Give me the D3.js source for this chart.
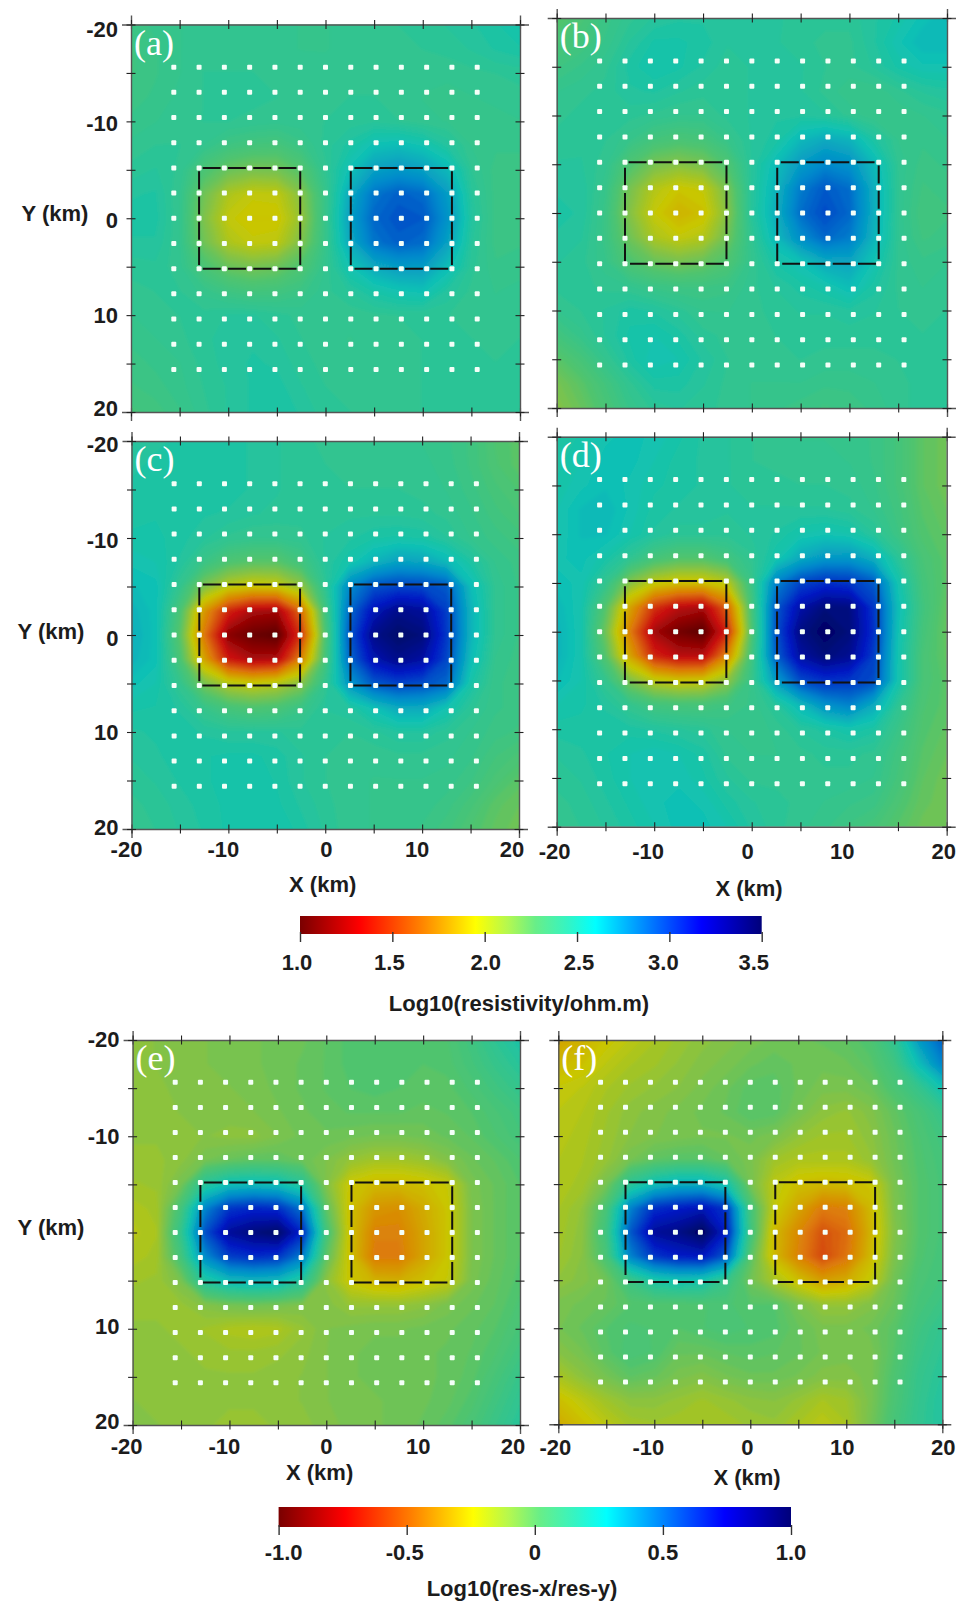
<!DOCTYPE html>
<html>
<head>
<meta charset="utf-8">
<script src="https://cdn.jsdelivr.net/npm/d3@7"></script>
<style>
  body { margin: 0; background: #fff; }
  svg { display: block; }
  text { font-family: "Liberation Sans", Arial, sans-serif; font-weight: bold; fill: #1c1c1c; }
  .tag { font-family: "Liberation Serif", serif; font-weight: normal; fill: #fff; }
</style>
</head>
<body>
<svg id="chart" width="974" height="1616"></svg>
<script>
// grid nodes of the fields, km, every 2.5 km (rows run from y=-20 down to y=20)
const gridKm = [-20,-17.5,-15,-12.5,-10,-7.5,-5,-2.5,0,2.5,5,7.5,10,12.5,15,17.5,20];
const tickKm = [-20,-15,-10,-5,0,5,10,15,20];
const labelKm = [-20,-10,0,10,20];
const stationKm = [-15.6,-13,-10.4,-7.8,-5.2,-2.6,0,2.6,5.2,7.8,10.4,13,15.6];
const boxXKm = [[-13,-2.6],[2.6,13]];
const boxYKm = [-5.2,5.2];

// panel (a) Log10 resistivity
const fieldA = [
2.40,2.42,2.44,2.46,2.46,2.46,2.45,2.44,2.44,2.45,2.46,2.47,2.48,2.50,2.52,2.55,2.58,
2.38,2.41,2.44,2.46,2.46,2.46,2.45,2.44,2.44,2.45,2.46,2.46,2.47,2.48,2.50,2.53,2.55,
2.38,2.41,2.44,2.47,2.47,2.47,2.46,2.46,2.45,2.46,2.46,2.46,2.45,2.45,2.46,2.47,2.48,
2.40,2.42,2.45,2.47,2.48,2.48,2.47,2.46,2.46,2.47,2.47,2.46,2.44,2.43,2.44,2.45,2.46,
2.42,2.44,2.46,2.47,2.47,2.46,2.45,2.46,2.47,2.48,2.49,2.47,2.45,2.44,2.43,2.43,2.44,
2.45,2.47,2.47,2.44,2.38,2.35,2.34,2.40,2.48,2.54,2.62,2.64,2.60,2.52,2.44,2.42,2.42,
2.48,2.50,2.46,2.32,2.22,2.18,2.19,2.28,2.46,2.62,2.76,2.80,2.76,2.66,2.47,2.40,2.40,
2.52,2.53,2.44,2.20,2.04,1.98,1.99,2.14,2.42,2.72,2.92,2.98,2.95,2.78,2.50,2.40,2.40,
2.54,2.54,2.44,2.16,1.98,1.94,1.94,2.10,2.42,2.76,2.96,3.02,3.00,2.82,2.52,2.40,2.40,
2.52,2.52,2.44,2.20,2.04,1.98,2.00,2.16,2.42,2.72,2.92,2.98,2.95,2.76,2.50,2.40,2.41,
2.48,2.49,2.45,2.32,2.22,2.18,2.21,2.30,2.44,2.60,2.72,2.78,2.78,2.64,2.48,2.42,2.43,
2.46,2.47,2.47,2.43,2.38,2.35,2.36,2.40,2.46,2.50,2.56,2.60,2.62,2.52,2.46,2.44,2.45,
2.44,2.46,2.47,2.48,2.50,2.50,2.48,2.46,2.45,2.45,2.46,2.47,2.47,2.47,2.46,2.45,2.46,
2.42,2.44,2.46,2.49,2.51,2.52,2.50,2.47,2.45,2.44,2.45,2.46,2.47,2.47,2.47,2.46,2.47,
2.40,2.42,2.44,2.48,2.51,2.53,2.52,2.48,2.46,2.45,2.45,2.46,2.47,2.47,2.47,2.47,2.48,
2.38,2.40,2.43,2.47,2.50,2.53,2.54,2.50,2.47,2.46,2.46,2.46,2.47,2.47,2.47,2.47,2.49,
2.35,2.37,2.41,2.46,2.50,2.53,2.55,2.52,2.48,2.47,2.46,2.46,2.47,2.47,2.47,2.47,2.49];

// panel (b) Log10 resistivity
const fieldB = [
2.28,2.32,2.40,2.46,2.50,2.52,2.52,2.50,2.50,2.50,2.49,2.48,2.48,2.52,2.56,2.62,2.66,
2.32,2.36,2.42,2.50,2.56,2.56,2.54,2.50,2.50,2.50,2.48,2.46,2.46,2.52,2.60,2.66,2.66,
2.38,2.42,2.46,2.54,2.58,2.56,2.52,2.48,2.50,2.52,2.50,2.47,2.46,2.50,2.56,2.60,2.60,
2.44,2.46,2.48,2.52,2.53,2.50,2.48,2.48,2.50,2.52,2.50,2.46,2.42,2.42,2.46,2.50,2.52,
2.46,2.48,2.48,2.48,2.46,2.44,2.44,2.48,2.50,2.52,2.52,2.50,2.46,2.42,2.42,2.44,2.46,
2.48,2.49,2.47,2.42,2.35,2.32,2.34,2.42,2.50,2.54,2.66,2.72,2.68,2.54,2.44,2.42,2.44,
2.50,2.50,2.45,2.30,2.18,2.14,2.18,2.30,2.50,2.64,2.78,2.86,2.82,2.66,2.46,2.40,2.42,
2.52,2.52,2.42,2.18,2.02,1.95,1.98,2.18,2.50,2.68,2.90,3.00,2.94,2.70,2.46,2.38,2.40,
2.54,2.52,2.40,2.14,1.97,1.88,1.93,2.14,2.50,2.70,2.94,3.04,2.96,2.70,2.46,2.36,2.38,
2.52,2.50,2.40,2.20,2.04,1.98,2.02,2.20,2.46,2.66,2.84,2.96,2.90,2.68,2.46,2.38,2.40,
2.50,2.48,2.42,2.30,2.22,2.18,2.22,2.30,2.44,2.56,2.62,2.72,2.74,2.60,2.46,2.42,2.44,
2.48,2.48,2.46,2.44,2.40,2.38,2.38,2.40,2.46,2.50,2.54,2.58,2.64,2.54,2.46,2.44,2.46,
2.44,2.47,2.50,2.54,2.52,2.48,2.44,2.44,2.46,2.48,2.50,2.50,2.52,2.50,2.47,2.46,2.47,
2.36,2.43,2.50,2.56,2.58,2.54,2.48,2.46,2.46,2.47,2.48,2.48,2.48,2.48,2.48,2.47,2.47,
2.26,2.34,2.44,2.54,2.60,2.58,2.52,2.47,2.46,2.46,2.47,2.46,2.46,2.46,2.47,2.47,2.48,
2.18,2.26,2.36,2.46,2.54,2.54,2.50,2.46,2.44,2.44,2.44,2.42,2.42,2.44,2.46,2.48,2.48,
2.14,2.22,2.32,2.42,2.48,2.50,2.48,2.46,2.44,2.42,2.40,2.38,2.40,2.42,2.46,2.48,2.50];

// panel (c) Log10 resistivity
const fieldC = [
2.50,2.52,2.53,2.54,2.54,2.52,2.50,2.48,2.46,2.45,2.45,2.45,2.44,2.42,2.38,2.30,2.26,
2.52,2.53,2.53,2.54,2.54,2.52,2.50,2.48,2.47,2.46,2.46,2.46,2.45,2.43,2.38,2.31,2.26,
2.53,2.54,2.54,2.54,2.54,2.52,2.50,2.48,2.47,2.47,2.47,2.47,2.46,2.44,2.40,2.34,2.30,
2.54,2.55,2.54,2.53,2.52,2.50,2.49,2.48,2.48,2.49,2.49,2.49,2.48,2.46,2.42,2.37,2.33,
2.56,2.56,2.54,2.50,2.46,2.44,2.44,2.46,2.50,2.52,2.55,2.56,2.55,2.50,2.44,2.40,2.37,
2.60,2.58,2.52,2.40,2.30,2.26,2.26,2.36,2.50,2.58,2.68,2.76,2.74,2.66,2.54,2.44,2.40,
2.64,2.62,2.44,2.16,2.00,1.94,1.96,2.10,2.46,2.85,3.02,3.06,3.05,3.00,2.64,2.46,2.41,
2.68,2.62,2.32,1.78,1.42,1.26,1.24,1.62,2.36,2.95,3.22,3.34,3.30,3.08,2.68,2.46,2.41,
2.70,2.62,2.26,1.66,1.18,1.10,1.06,1.45,2.30,3.00,3.34,3.42,3.38,3.10,2.68,2.46,2.41,
2.68,2.62,2.32,1.82,1.38,1.26,1.28,1.70,2.34,2.95,3.24,3.34,3.28,3.06,2.64,2.44,2.40,
2.62,2.58,2.44,2.18,2.02,1.97,2.02,2.14,2.44,2.80,3.00,3.06,3.03,2.96,2.56,2.42,2.40,
2.56,2.55,2.52,2.42,2.34,2.30,2.32,2.40,2.50,2.52,2.62,2.72,2.72,2.60,2.48,2.42,2.40,
2.52,2.53,2.54,2.52,2.50,2.50,2.50,2.48,2.47,2.47,2.49,2.52,2.52,2.48,2.44,2.40,2.38,
2.50,2.52,2.54,2.55,2.56,2.56,2.54,2.50,2.47,2.45,2.45,2.46,2.46,2.45,2.42,2.36,2.32,
2.48,2.50,2.53,2.55,2.56,2.57,2.55,2.50,2.47,2.45,2.44,2.44,2.44,2.43,2.39,2.32,2.26,
2.46,2.48,2.51,2.54,2.56,2.58,2.56,2.52,2.48,2.45,2.44,2.44,2.43,2.40,2.34,2.26,2.22,
2.45,2.47,2.50,2.53,2.56,2.58,2.58,2.54,2.49,2.45,2.44,2.43,2.41,2.37,2.30,2.24,2.20];

// panel (d) Log10 resistivity
const fieldD = [
2.52,2.56,2.60,2.62,2.60,2.56,2.52,2.50,2.47,2.45,2.44,2.44,2.43,2.41,2.35,2.25,2.20,
2.54,2.58,2.62,2.62,2.58,2.54,2.52,2.50,2.47,2.46,2.45,2.45,2.44,2.41,2.35,2.25,2.20,
2.56,2.60,2.63,2.60,2.56,2.54,2.52,2.50,2.48,2.48,2.47,2.47,2.46,2.42,2.35,2.25,2.20,
2.58,2.64,2.66,2.60,2.54,2.52,2.52,2.50,2.50,2.50,2.50,2.50,2.48,2.44,2.37,2.27,2.22,
2.58,2.64,2.64,2.58,2.52,2.48,2.48,2.48,2.50,2.53,2.58,2.60,2.58,2.50,2.39,2.29,2.24,
2.60,2.62,2.56,2.46,2.34,2.28,2.28,2.36,2.46,2.58,2.72,2.80,2.80,2.70,2.49,2.33,2.26,
2.62,2.60,2.44,2.14,1.98,1.92,1.92,2.00,2.40,2.88,3.06,3.12,3.10,3.00,2.59,2.35,2.26,
2.66,2.58,2.28,1.82,1.46,1.30,1.26,1.60,2.34,3.00,3.26,3.38,3.36,3.10,2.63,2.37,2.24,
2.68,2.58,2.20,1.68,1.24,1.12,1.06,1.42,2.30,3.02,3.36,3.44,3.38,3.12,2.61,2.35,2.23,
2.68,2.58,2.28,1.82,1.42,1.30,1.30,1.72,2.36,2.98,3.28,3.38,3.32,3.08,2.59,2.33,2.24,
2.64,2.58,2.44,2.16,2.00,1.94,1.96,2.12,2.42,2.78,3.04,3.12,3.10,3.04,2.59,2.33,2.26,
2.58,2.56,2.52,2.44,2.36,2.34,2.34,2.38,2.42,2.50,2.66,2.82,2.88,2.72,2.47,2.31,2.26,
2.54,2.54,2.54,2.54,2.52,2.50,2.48,2.44,2.42,2.45,2.50,2.54,2.58,2.54,2.41,2.29,2.24,
2.50,2.52,2.55,2.58,2.60,2.58,2.54,2.46,2.44,2.44,2.46,2.48,2.48,2.46,2.37,2.27,2.22,
2.48,2.50,2.54,2.58,2.60,2.60,2.56,2.50,2.46,2.46,2.46,2.46,2.46,2.44,2.35,2.25,2.20,
2.46,2.48,2.52,2.56,2.60,2.62,2.60,2.54,2.50,2.48,2.46,2.44,2.42,2.40,2.31,2.23,2.20,
2.45,2.47,2.50,2.54,2.58,2.62,2.62,2.58,2.52,2.48,2.45,2.42,2.38,2.34,2.27,2.21,2.20];

// panel (e) Log10(res-x/res-y)
const fieldE = [
-0.10,-0.09,-0.08,-0.07,-0.06,-0.05,-0.04,-0.03,0.00,0.03,0.04,0.03,0.02,0.04,0.10,0.18,0.24,
-0.10,-0.09,-0.08,-0.07,-0.06,-0.05,-0.04,-0.02,0.00,0.03,0.04,0.03,0.02,0.03,0.08,0.14,0.20,
-0.10,-0.10,-0.08,-0.08,-0.07,-0.06,-0.04,-0.02,0.00,0.02,0.03,0.02,0.01,0.01,0.05,0.10,0.15,
-0.10,-0.10,-0.09,-0.08,-0.08,-0.07,-0.05,-0.03,-0.01,0.00,0.00,0.00,-0.01,0.00,0.02,0.06,0.10,
-0.11,-0.11,-0.10,-0.09,-0.10,-0.10,-0.07,-0.04,-0.03,-0.04,-0.05,-0.05,-0.04,-0.02,0.00,0.04,0.08,
-0.12,-0.12,-0.10,-0.05,-0.02,0.00,0.00,-0.03,-0.07,-0.12,-0.15,-0.15,-0.13,-0.08,-0.03,0.00,0.04,
-0.14,-0.13,-0.05,0.20,0.30,0.32,0.30,0.20,-0.08,-0.24,-0.28,-0.28,-0.26,-0.22,-0.06,-0.02,0.02,
-0.17,-0.15,0.08,0.50,0.68,0.72,0.70,0.54,0.00,-0.26,-0.38,-0.40,-0.32,-0.24,-0.07,-0.02,0.02,
-0.19,-0.16,0.15,0.62,0.84,0.90,0.94,0.72,0.08,-0.26,-0.44,-0.44,-0.34,-0.24,-0.07,-0.02,0.02,
-0.17,-0.15,0.08,0.48,0.66,0.70,0.68,0.52,0.00,-0.26,-0.46,-0.46,-0.34,-0.24,-0.07,-0.02,0.02,
-0.14,-0.13,-0.06,0.22,0.32,0.34,0.32,0.20,-0.10,-0.24,-0.30,-0.31,-0.26,-0.22,-0.06,-0.01,0.03,
-0.12,-0.12,-0.12,-0.08,-0.05,-0.04,-0.05,-0.07,-0.08,-0.12,-0.12,-0.12,-0.10,-0.06,-0.03,0.00,0.05,
-0.11,-0.11,-0.12,-0.14,-0.17,-0.18,-0.17,-0.12,-0.07,-0.06,-0.05,-0.05,-0.04,-0.03,-0.01,0.02,0.07,
-0.10,-0.10,-0.11,-0.12,-0.13,-0.13,-0.12,-0.10,-0.07,-0.05,-0.04,-0.04,-0.03,-0.02,0.00,0.04,0.10,
-0.10,-0.10,-0.10,-0.11,-0.11,-0.11,-0.10,-0.09,-0.07,-0.05,-0.04,-0.04,-0.03,-0.02,0.01,0.07,0.14,
-0.09,-0.10,-0.10,-0.11,-0.11,-0.11,-0.10,-0.09,-0.07,-0.06,-0.05,-0.04,-0.03,-0.01,0.03,0.10,0.17,
-0.09,-0.09,-0.10,-0.11,-0.12,-0.12,-0.11,-0.10,-0.08,-0.06,-0.05,-0.04,-0.02,0.01,0.06,0.13,0.20];

// panel (f) Log10(res-x/res-y)
const fieldF = [
-0.34,-0.30,-0.24,-0.20,-0.16,-0.13,-0.10,-0.08,-0.06,-0.04,-0.03,-0.02,0.00,0.04,0.16,0.42,0.58,
-0.28,-0.25,-0.20,-0.16,-0.14,-0.11,-0.08,-0.06,-0.03,-0.01,-0.03,-0.04,-0.03,0.01,0.10,0.30,0.50,
-0.22,-0.20,-0.16,-0.13,-0.11,-0.09,-0.06,-0.03,0.01,0.01,-0.03,-0.06,-0.06,-0.03,0.05,0.14,0.28,
-0.20,-0.18,-0.14,-0.10,-0.08,-0.06,-0.04,-0.02,0.02,0.01,-0.05,-0.10,-0.12,-0.08,-0.01,0.06,0.14,
-0.19,-0.17,-0.13,-0.09,-0.07,-0.06,-0.05,-0.05,-0.04,-0.06,-0.11,-0.14,-0.14,-0.10,-0.03,0.04,0.10,
-0.18,-0.16,-0.12,-0.05,0.00,0.02,0.02,-0.02,-0.06,-0.14,-0.17,-0.17,-0.17,-0.12,-0.04,0.03,0.08,
-0.17,-0.15,-0.05,0.18,0.30,0.36,0.36,0.26,-0.05,-0.20,-0.26,-0.28,-0.27,-0.24,-0.06,0.02,0.07,
-0.16,-0.11,0.06,0.50,0.70,0.74,0.78,0.68,0.08,-0.22,-0.34,-0.46,-0.44,-0.28,-0.07,0.02,0.07,
-0.15,-0.10,0.10,0.60,0.84,0.88,0.96,0.74,0.10,-0.28,-0.42,-0.56,-0.50,-0.30,-0.08,0.02,0.07,
-0.14,-0.09,0.06,0.50,0.68,0.74,0.76,0.60,0.02,-0.28,-0.44,-0.58,-0.48,-0.28,-0.07,0.03,0.08,
-0.11,-0.08,-0.04,0.12,0.24,0.28,0.26,0.14,-0.04,-0.16,-0.26,-0.36,-0.32,-0.22,-0.04,0.05,0.09,
-0.06,-0.04,-0.02,0.02,0.03,0.03,0.04,0.05,0.02,0.02,-0.06,-0.12,-0.12,-0.08,-0.02,0.07,0.12,
-0.05,-0.02,0.02,0.05,0.04,0.02,0.04,0.06,0.04,0.03,-0.02,-0.06,-0.06,-0.04,0.01,0.10,0.16,
-0.09,-0.05,0.01,0.06,0.04,-0.02,-0.02,0.00,0.01,0.00,-0.02,-0.05,-0.06,-0.06,0.02,0.12,0.18,
-0.16,-0.10,-0.05,0.00,-0.02,-0.06,-0.08,-0.05,-0.03,-0.03,-0.05,-0.08,-0.08,-0.06,0.04,0.14,0.20,
-0.26,-0.20,-0.14,-0.10,-0.10,-0.12,-0.14,-0.12,-0.10,-0.09,-0.12,-0.16,-0.14,-0.06,0.05,0.15,0.22,
-0.32,-0.26,-0.20,-0.15,-0.14,-0.15,-0.16,-0.15,-0.13,-0.12,-0.16,-0.20,-0.16,-0.05,0.07,0.16,0.22];

const resDomain = [1, 3.5];
const resTicks = [1, 1.5, 2, 2.5, 3, 3.5];
const resTickLabels = ["1.0", "1.5", "2.0", "2.5", "3.0", "3.5"];
const ratioDomain = [-1, 1];
const ratioTicks = [-1, -0.5, 0, 0.5, 1];
const ratioTickLabels = ["-1.0", "-0.5", "0", "0.5", "1.0"];

// colour stops, as a fraction of the colour bar
const stopAt = [0, 0.13, 0.26, 0.38, 0.45, 0.51, 0.58, 0.64, 0.74, 0.87, 1];
const barStops = ["#7a0000","#ff0000","#ff8000","#ffff00","#b4f850","#68ee88","#34f4c4","#00ffff","#0090ff","#0000ff","#00007a"];
// the maps are printed darker than the bars
const mapStops = ["#480000","#c80a0a","#de7808","#c8c800","#86c244","#50c46e","#2ec492","#10c2b4","#0088cc","#0018c4","#000048"];

const svg = d3.select("#chart");
const defs = svg.append("defs");
defs.append("filter").attr("id", "soft")
  .attr("x", "-5%").attr("y", "-5%").attr("width", "110%").attr("height", "110%")
  .append("feGaussianBlur").attr("stdDeviation", 1.6);

function stopScale(domain, colors) {
  const [lo, hi] = domain;
  return d3.scaleLinear().domain(stopAt.map(t => lo + t * (hi - lo))).range(colors).clamp(true);
}

function drawPanel(p) {
  const x = d3.scaleLinear().domain([-20, 20]).range(p.xr);
  const y = d3.scaleLinear().domain([-20, 20]).range(p.yr);
  const g = svg.append("g");
  const color = stopScale(p.domain, mapStops);

  g.append("clipPath").attr("id", "clip" + p.id).append("rect")
    .attr("x", p.xr[0]).attr("y", p.yr[0])
    .attr("width", p.xr[1] - p.xr[0]).attr("height", p.yr[1] - p.yr[0]);

  // contour cell i has its node at i + 0.5
  const nodeKm = d3.scaleLinear().domain([0.5, gridKm.length - 0.5]).range([-20, 20]);
  const path = d3.geoPath(d3.geoTransform({
    point(px, py) { this.stream.point(x(nodeKm(px)), y(nodeKm(py))); }
  }));
  const thresholds = d3.range(-1.1, 90).map(i => p.domain[0] + i / 90 * (p.domain[1] - p.domain[0]));
  const bands = d3.contours().size([gridKm.length, gridKm.length]).thresholds(thresholds)(p.field);

  g.append("g").attr("clip-path", `url(#clip${p.id})`)
    .append("g").attr("filter", "url(#soft)")
    .selectAll("path").data(bands).join("path")
    .attr("d", path)
    .attr("fill", d => color(d.value))
    .attr("stroke", d => color(d.value))
    .attr("stroke-width", 0.5);

  // the two prisms
  boxXKm.forEach(([x0, x1]) => {
    g.append("rect")
      .attr("x", x(x0)).attr("y", y(boxYKm[0]))
      .attr("width", x(x1) - x(x0)).attr("height", y(boxYKm[1]) - y(boxYKm[0]))
      .attr("fill", "none").attr("stroke", "#111").attr("stroke-width", 2)
      .attr("stroke-dasharray", "18 7.25").attr("stroke-dashoffset", -3.6);
  });

  // stations
  const stations = d3.cross(stationKm, stationKm);
  g.append("g").selectAll("rect").data(stations).join("rect")
    .attr("x", d => x(d[0]) - 2.5).attr("y", d => y(d[1]) - 2.5)
    .attr("width", 5).attr("height", 5).attr("rx", 1)
    .attr("fill", "#f4fff8");

  // frame with ticks crossing it
  const tickLen = 9;
  const axes = [
    [d3.axisTop(x), `translate(0,${p.yr[0]})`, "0,", tickLen / 2],
    [d3.axisBottom(x), `translate(0,${p.yr[1]})`, "0,", -tickLen / 2],
    [d3.axisLeft(y), `translate(${p.xr[0]},0)`, "", tickLen / 2],
    [d3.axisRight(y), `translate(${p.xr[1]},0)`, "", -tickLen / 2]
  ];
  axes.forEach(([axis, at, pre, shift]) => {
    const a = g.append("g").attr("transform", at)
      .call(axis.tickValues(tickKm).tickSize(tickLen).tickFormat(""));
    a.selectAll("text").remove();
    a.select(".domain").attr("stroke", "#555").attr("stroke-width", 1.4);
    a.selectAll(".tick line").attr("stroke", "#222").attr("stroke-width", 1.1)
      .attr("transform", pre ? `translate(0,${shift})` : `translate(${shift},0)`);
  });

  // tick labels and axis titles
  if (p.yLabels) {
    g.append("g").selectAll("text").data(p.yLabels.map((d, i) => [d, p.yShift[i]])).join("text")
      .attr("x", p.xr[0] - 13).attr("y", d => y(d[0]) + d[1])
      .attr("dy", "0.36em").attr("text-anchor", "end")
      .attr("font-size", 22).text(d => d[0]);
    g.append("text").attr("x", p.yTitle[0]).attr("y", p.yTitle[1]).attr("dy", "0.36em")
      .attr("text-anchor", "middle").attr("font-size", 22).text("Y (km)");
  }
  if (p.xLabels) {
    g.append("g").selectAll("text").data(labelKm).join("text")
      .attr("x", (d, i) => x(d) + p.xShift[i]).attr("y", p.xLabels)
      .attr("dy", "0.36em").attr("text-anchor", "middle")
      .attr("font-size", 22).text(d => d);
    g.append("text").attr("x", p.xTitle[0]).attr("y", p.xTitle[1]).attr("dy", "0.36em")
      .attr("text-anchor", "middle").attr("font-size", 22).text("X (km)");
  }

  g.append("text").attr("class", "tag")
    .attr("x", p.xr[0] + p.tag[0]).attr("y", p.yr[0] + p.tag[1])
    .attr("font-size", 36).text(`(${p.id})`);
}

function drawBar(b) {
  const x = d3.scaleLinear().domain(b.domain).range(b.xr);
  const id = "bar" + b.xr[0];
  defs.append("linearGradient").attr("id", id)
    .selectAll("stop").data(stopAt).join("stop")
    .attr("offset", d => d)
    .attr("stop-color", (d, i) => barStops[i]);

  const g = svg.append("g");
  g.append("rect")
    .attr("x", b.xr[0]).attr("y", b.yr[0])
    .attr("width", b.xr[1] - b.xr[0]).attr("height", b.yr[1] - b.yr[0])
    .attr("fill", `url(#${id})`);

  const axis = g.append("g").attr("transform", `translate(0,${b.yr[1]})`)
    .call(d3.axisBottom(x).tickValues(b.ticks).tickSize(10).tickFormat(""));
  axis.select(".domain").remove();
  axis.selectAll(".tick line").attr("stroke", "#333").attr("stroke-width", 1.4)
    .attr("transform", "translate(0,-2)");

  g.append("g").selectAll("text").data(b.ticks).join("text")
    .attr("x", (d, i) => x(d) + b.labelShift[i]).attr("y", b.labelY)
    .attr("dy", "0.36em").attr("text-anchor", "middle")
    .attr("font-size", 22).text((d, i) => b.labels[i]);

  g.append("text").attr("x", b.title[0]).attr("y", b.title[1]).attr("dy", "0.36em")
    .attr("text-anchor", "middle").attr("font-size", 22).text(b.titleText);
}

[
  { id: "a", field: fieldA, domain: resDomain, xr: [131, 520], yr: [24.5, 412], tag: [3, 30],
    yLabels: labelKm, yShift: [5, 2, 2, 0, -4], yTitle: [55, 213] },
  { id: "b", field: fieldB, domain: resDomain, xr: [556.7, 947], yr: [18, 408], tag: [3, 30] },
  { id: "c", field: fieldC, domain: resDomain, xr: [131.5, 519], yr: [441, 829], tag: [3, 30],
    yLabels: labelKm, yShift: [3, 2, 3, 0, -2], yTitle: [51, 631],
    xLabels: 849, xShift: [-5, -5, 1, -5, -7], xTitle: [322.7, 884] },
  { id: "d", field: fieldD, domain: resDomain, xr: [556.7, 946.7], yr: [436.7, 826.7], tag: [3, 30],
    xLabels: 851, xShift: [-2, -6, -4, -7, -3], xTitle: [749, 888] },
  // this panel has no 0 on its Y axis
  { id: "e", field: fieldE, domain: ratioDomain, xr: [132.6, 520], yr: [1040, 1425], tag: [3, 30],
    yLabels: [-20, -10, 10, 20], yShift: [-1, 0, -3, -4], yTitle: [51, 1227],
    xLabels: 1446, xShift: [-6, -5, 0, -5, -7], xTitle: [319.6, 1472] },
  { id: "f", field: fieldF, domain: ratioDomain, xr: [558.3, 942.3], yr: [1040, 1424.3], tag: [3, 30],
    xLabels: 1447, xShift: [-3, -6, -3, -4, 1], xTitle: [747, 1477] }
].forEach(drawPanel);

drawBar({ domain: resDomain, ticks: resTicks, labels: resTickLabels, xr: [300, 761.7], yr: [916, 934],
  labelY: 962, labelShift: [-3, -3, 1, 2, -6, -8], title: [519, 1003], titleText: "Log10(resistivity/ohm.m)" });
drawBar({ domain: ratioDomain, ticks: ratioTicks, labels: ratioTickLabels, xr: [278.6, 791], yr: [1507, 1527],
  labelY: 1551.7, labelShift: [5, -2, 0, 0, 0], title: [522, 1588], titleText: "Log10(res-x/res-y)" });
</script>
</body>
</html>
